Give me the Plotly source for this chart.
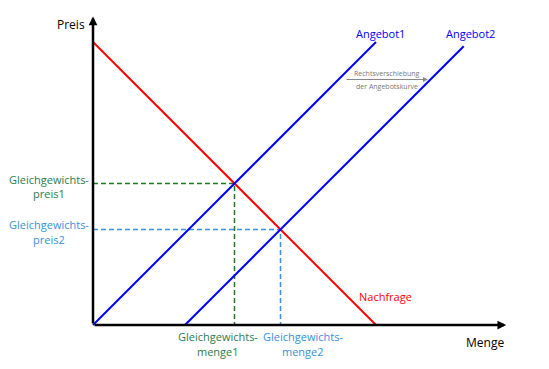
import plotly.graph_objects as go

# Data (model units)
nachfrage_x = [0, 10]
nachfrage_y = [10, 0]
angebot1_x = [0, 10]
angebot1_y = [0, 10]
angebot2_x = [3.25, 13.1]
angebot2_y = [0, 9.85]
gg1 = [5.0, 5.0]        # Gleichgewicht 1 (menge, preis)
gg2 = [6.625, 3.375]    # Gleichgewicht 2
x_axis_end = 14.6
y_axis_end = 10.9

S = 28.3  # px per unit
OX, OY = 93 - 8, 325 - 8   # origin in figure pixels (page has 8px body margin)
xr = [-OX / S, (549 - OX) / S]
yr = [-(369 - OY) / S, OY / S]

RED = "#ff0000"
BLUE = "#0000ff"
GREEN = "#1f7a1f"
GREEN_T = "#2a7d4f"
LBLUE = "#3a8fd6"
FONT = "Open Sans"

fig = go.Figure()

# dashed guide lines
fig.add_trace(go.Scatter(x=[0, gg1[0], gg1[0]], y=[gg1[1], gg1[1], 0], mode="lines",
                         line=dict(color=GREEN, width=1.5, dash="5px,3px"), hoverinfo="skip"))
fig.add_trace(go.Scatter(x=[0, gg2[0], gg2[0]], y=[gg2[1], gg2[1], 0], mode="lines",
                         line=dict(color=LBLUE, width=1.5, dash="5px,3px"), hoverinfo="skip"))

# curves
fig.add_trace(go.Scatter(x=nachfrage_x, y=nachfrage_y, mode="lines", line=dict(color=RED, width=2)))
fig.add_trace(go.Scatter(x=angebot1_x, y=angebot1_y, mode="lines", line=dict(color=BLUE, width=2)))
fig.add_trace(go.Scatter(x=angebot2_x, y=angebot2_y, mode="lines", line=dict(color=BLUE, width=2)))

# axes with arrows
fig.add_annotation(x=x_axis_end, y=0, ax=0, ay=0, xref="x", yref="y", axref="x", ayref="y",
                   text="", showarrow=True, arrowhead=2, arrowsize=0.7, arrowwidth=2.5, arrowcolor="black")
fig.add_annotation(x=0, y=y_axis_end, ax=0, ay=0, xref="x", yref="y", axref="x", ayref="y",
                   text="", showarrow=True, arrowhead=2, arrowsize=0.7, arrowwidth=2.5, arrowcolor="black")

# shift arrow
fig.add_annotation(x=(428 - 93) / S, y=(325 - 79.5) / S, ax=(345 - 93) / S, ay=(325 - 79.5) / S,
                   xref="x", yref="y", axref="x", ayref="y", text="", showarrow=True,
                   arrowhead=2, arrowsize=1, arrowwidth=1, arrowcolor="#888888")


def px(xp, yp):
    return (xp - 93) / S, (325 - yp) / S


def label(xp, yp, text, color, size=11, xanchor="center"):
    x, y = px(xp, yp)
    fig.add_annotation(x=x, y=y, xref="x", yref="y", text=text, showarrow=False,
                       font=dict(family=FONT, size=size, color=color), xanchor=xanchor, yanchor="middle")


label(87, 24, "Preis", "black", 12, "right")
label(485, 342, "Menge", "black", 12)
label(380, 33, "Angebot1", BLUE, 11)
label(470, 33, "Angebot2", BLUE, 11)
label(385, 296, "Nachfrage", RED, 11)
label(387, 73, "Rechtsverschiebung", "#777777", 7)
label(387, 86, "der Angebotskurve", "#777777", 7)
label(49, 179, "Gleichgewichts-", GREEN_T, 11)
label(49, 193, "preis1", GREEN_T, 11)
label(49, 224, "Gleichgewichts-", LBLUE, 11)
label(49, 239, "preis2", LBLUE, 11)
label(218, 336, "Gleichgewichts-", GREEN_T, 11)
label(218, 351, "menge1", GREEN_T, 11)
label(303, 336, "Gleichgewichts-", LBLUE, 11)
label(303, 351, "menge2", LBLUE, 11)

fig.update_layout(
    width=549, height=369, margin=dict(l=0, r=0, t=0, b=0),
    plot_bgcolor="white", paper_bgcolor="white", showlegend=False,
    xaxis=dict(range=xr, visible=False, fixedrange=True),
    yaxis=dict(range=yr, visible=False, fixedrange=True),
)

fig.write_html("out.html")
